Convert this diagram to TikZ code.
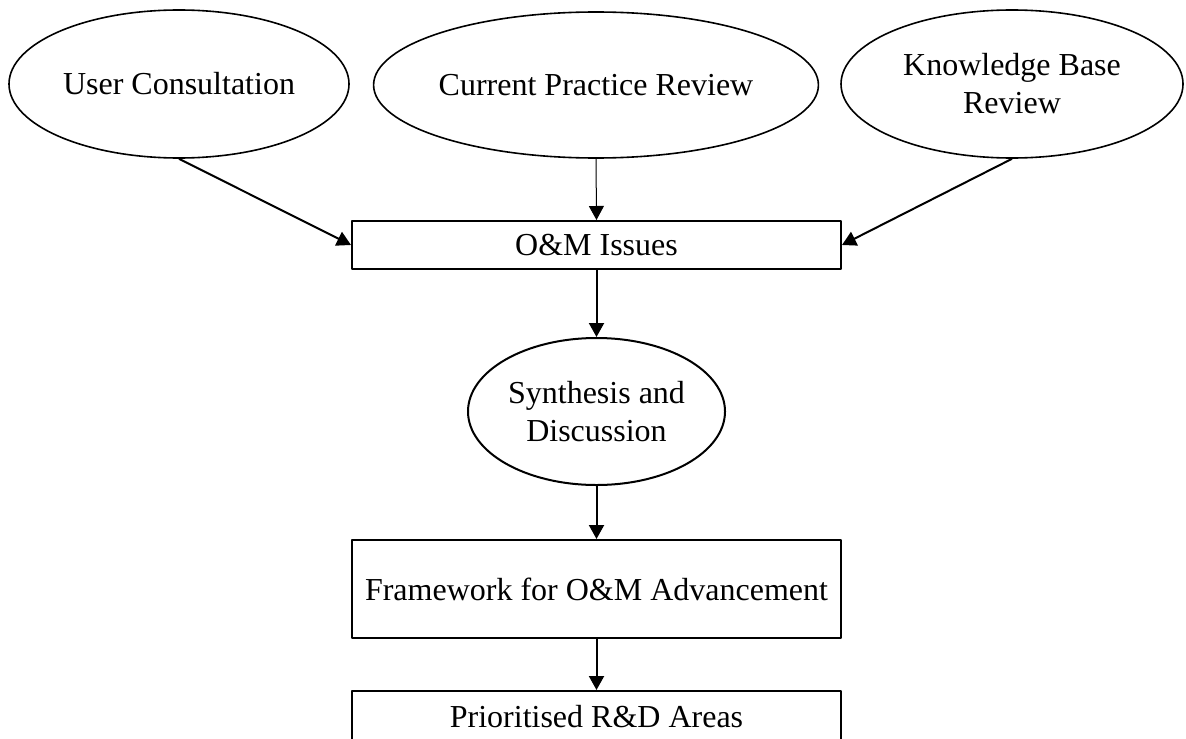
\documentclass[tikz,border=0pt]{standalone}
\usepackage{fontspec}
\setmainfont{Liberation Serif}
\usetikzlibrary{shapes.geometric,arrows.meta}
\begin{document}
\begin{tikzpicture}[x=0.5pt, y=-0.5pt, line join=round, line width=1pt, >={Triangle[length=7pt,width=7.5pt]},
	oval/.style={draw, ellipse, line width=0.8pt, inner sep=0pt, align=center, font=\fontsize{16}{19}\selectfont},
	box/.style={draw, rectangle, inner sep=0pt, minimum width=244.5pt, align=center, font=\fontsize{16}{19}\selectfont}]
	\useasboundingbox (0,0) rectangle (1186,738);
	% sources
	\node[oval, minimum width=170pt, minimum height=74pt] (user) at (179,84) {User Consultation};
	\node[oval, minimum width=196pt, minimum height=73pt] (practice) at (596,85) {Current Practice Review};
	\node[oval, minimum width=171pt, minimum height=74pt] (knowledge) at (1012,84) {Knowledge Base\\Review};
	% main chain
	\node[box, minimum height=24pt] (issues) at (596.5,245) {O\&M Issues};
	\node[oval, line width=1pt, minimum width=128.5pt, minimum height=73.5pt] (synth) at (596.5,411.5) {Synthesis and\\Discussion};
	\node[box, minimum height=49pt] (frame) at (596.5,589) {Framework for O\&M Advancement};
	\node[box, minimum height=26pt] (areas) at (596.5,717) {Prioritised R\&D Areas};
	% connectors
	\draw[->] (user.south) -- (issues.west);
	\draw[->, line width=0.5pt] (practice.south) -- (issues.north);
	\draw[->] (knowledge.south) -- (issues.east);
	\draw[->] (issues) -- (synth);
	\draw[->] (synth) -- (frame);
	\draw[->] (frame) -- (areas);
\end{tikzpicture}
\end{document}
